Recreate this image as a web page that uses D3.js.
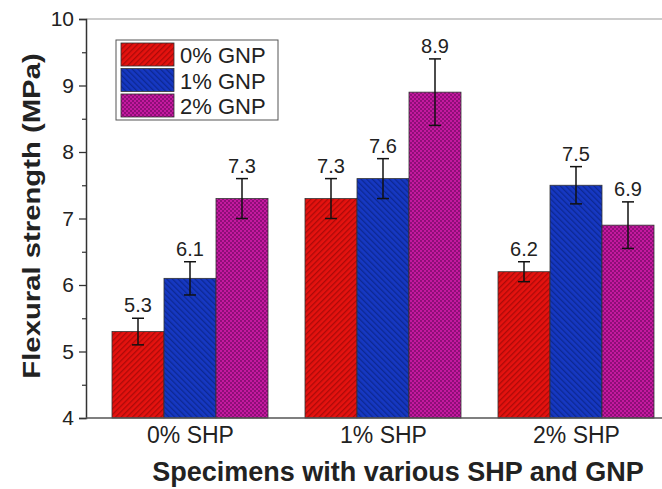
<!DOCTYPE html>
<html>
<head>
<meta charset="utf-8">
<script src="https://cdn.jsdelivr.net/npm/d3@7"></script>
<style>
  body { margin: 0; background: #fff; }
  svg text { font-family: "Liberation Sans", Arial, sans-serif; }
</style>
</head>
<body>
<svg width="662" height="489"></svg>
<script>
// data
var groups = ["0% SHP", "1% SHP", "2% SHP"];
var seriesNames = ["0% GNP", "1% GNP", "2% GNP"];
var gnp0 = [5.3, 7.3, 6.2];
var gnp1 = [6.1, 7.6, 7.5];
var gnp2 = [7.3, 8.9, 6.9];
var err0 = [0.2, 0.3, 0.15];
var err1 = [0.25, 0.3, 0.28];
var err2 = [0.3, 0.5, 0.35];
var yTicks = [4, 5, 6, 7, 8, 9, 10];

var values = [gnp0, gnp1, gnp2];
var errors = [err0, err1, err2];
var fills = ["#e5120f", "#1638c2", "#c4199f"];
var lineCols = ["#9c0808", "#0b2486", "#7a0a68"];

var svg = d3.select("svg");
var pL = 86, pR = 662, pT = 19, pB = 418;

var x = d3.scalePoint().domain(groups).range([93.5, 672.5]).padding(0.5);
var xi = d3.scaleBand().domain(d3.range(3)).range([-78, 78]).padding(0);
var y = d3.scaleLinear().domain([4, 10]).range([pB, pT]);

// patterns
var defs = svg.append("defs");
function hatch(id, bg, fg, angle) {
  var p = defs.append("pattern").attr("id", id).attr("patternUnits", "userSpaceOnUse")
    .attr("width", 4).attr("height", 4).attr("patternTransform", "rotate(" + angle + ")");
  p.append("rect").attr("width", 4).attr("height", 4).attr("fill", bg);
  p.append("rect").attr("width", 1.3).attr("height", 4).attr("fill", fg).attr("opacity", 0.8);
}
hatch("pat0", fills[0], lineCols[0], 45);
hatch("pat1", fills[1], lineCols[1], -45);
var pc = defs.append("pattern").attr("id", "pat2").attr("patternUnits", "userSpaceOnUse")
  .attr("width", 4).attr("height", 4);
pc.append("rect").attr("width", 4).attr("height", 4).attr("fill", fills[2]);
pc.append("rect").attr("width", 2).attr("height", 2).attr("fill", lineCols[2]).attr("opacity", 0.7);
pc.append("rect").attr("x", 2).attr("y", 2).attr("width", 2).attr("height", 2).attr("fill", lineCols[2]).attr("opacity", 0.7);

// frame top
svg.append("line").attr("x1", pL).attr("x2", pR).attr("y1", pT).attr("y2", pT)
  .attr("stroke", "#bbb").attr("stroke-width", 1.5);

// bars
for (var s = 0; s < 3; s++) {
  var g = svg.append("g");
  groups.forEach(function(grp, i) {
    var bx = x(grp) + xi(s);
    var v = values[s][i], e = errors[s][i];
    g.append("rect")
      .attr("x", bx).attr("y", y(v))
      .attr("width", xi.bandwidth()).attr("height", y(4) - y(v))
      .attr("fill", "url(#pat" + s + ")")
      .attr("stroke", "#333").attr("stroke-width", 0.8);
    var cx = bx + xi.bandwidth() / 2;
    g.append("line").attr("x1", cx).attr("x2", cx).attr("y1", y(v + e)).attr("y2", y(v - e))
      .attr("stroke", "#111").attr("stroke-width", 1.5);
    [v + e, v - e].forEach(function(t) {
      g.append("line").attr("x1", cx - 6).attr("x2", cx + 6).attr("y1", y(t)).attr("y2", y(t))
        .attr("stroke", "#111").attr("stroke-width", 1.5);
    });
    g.append("text").attr("x", cx).attr("y", y(v + e) - 6)
      .attr("text-anchor", "middle").attr("font-size", 20).attr("fill", "#222")
      .text(d3.format(".1f")(v));
  });
}

// y axis
var yAxis = svg.append("g").attr("transform", "translate(" + pL + ",0)")
  .call(d3.axisLeft(y).tickValues(yTicks).tickSize(7).tickPadding(5).tickFormat(d3.format("d")));
yAxis.selectAll("text").attr("font-size", 21).attr("fill", "#222");
yAxis.select(".domain").attr("stroke", "#333").attr("stroke-width", 1.5);
yAxis.selectAll(".tick line").attr("stroke", "#333").attr("stroke-width", 1.3);
svg.append("g").attr("transform", "translate(" + pL + ",0)")
  .call(d3.axisLeft(y).tickValues(d3.range(4.5, 10, 1)).tickSize(4).tickFormat(""))
  .call(function(a) { a.select(".domain").remove(); a.selectAll("line").attr("stroke", "#333").attr("stroke-width", 1.2); });

// x axis
var xAxis = svg.append("g").attr("transform", "translate(0," + pB + ")")
  .call(d3.axisBottom(x).tickSize(0).tickPadding(9));
xAxis.select(".domain").attr("d", "M" + pL + ",0H" + pR).attr("stroke", "#555").attr("stroke-width", 1.5);
xAxis.selectAll("text").attr("font-size", 23).attr("fill", "#222");

// axis titles
svg.append("text").attr("transform", "translate(40," + 216 + ") rotate(-90) scale(1.22,1)")
  .attr("text-anchor", "middle").attr("font-size", 24).attr("font-weight", "bold").attr("fill", "#222")
  .text("Flexural strength (MPa)");
svg.append("text").attr("x", 398).attr("y", 481)
  .attr("text-anchor", "middle").attr("font-size", 27).attr("font-weight", "bold").attr("fill", "#222")
  .text("Specimens with various SHP and GNP");

// legend
var lg = svg.append("g");
lg.append("rect").attr("x", 116).attr("y", 40).attr("width", 162).attr("height", 80)
  .attr("fill", "#fff").attr("stroke", "#555").attr("stroke-width", 1);
seriesNames.forEach(function(n, i) {
  var ly = 43 + i * 25.5;
  lg.append("rect").attr("x", 121).attr("y", ly).attr("width", 53).attr("height", 23)
    .attr("fill", "url(#pat" + i + ")").attr("stroke", "#333").attr("stroke-width", 0.8);
  lg.append("text").attr("x", 180).attr("y", ly + 20).attr("font-size", 22).attr("fill", "#222").text(n);
});
</script>
</body>
</html>
